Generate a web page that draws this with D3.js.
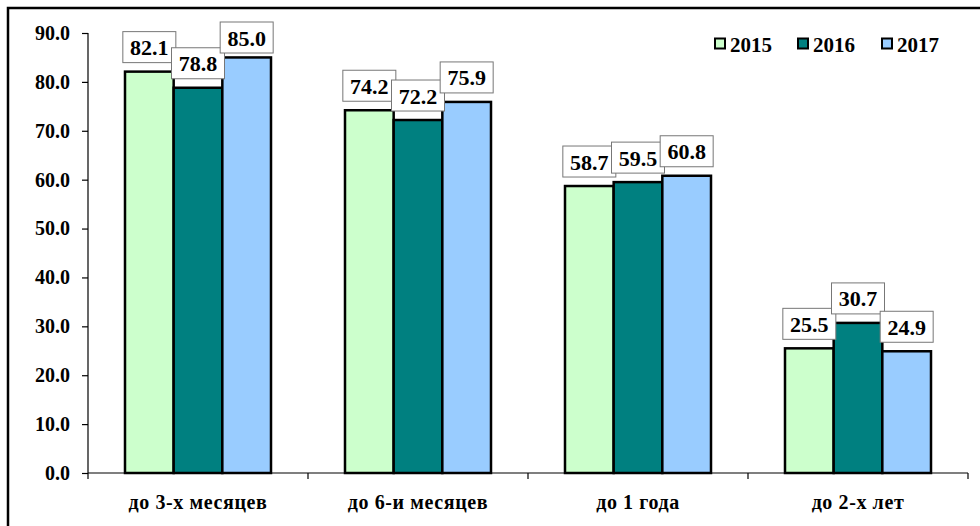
<!DOCTYPE html>
<html><head><meta charset="utf-8">
<script src="https://cdn.jsdelivr.net/npm/d3@7"></script>
<style>html,body{margin:0;padding:0;background:#fff;overflow:hidden}
svg text{font-family:"Liberation Serif","Times New Roman",Tinos,"DejaVu Serif",serif;font-weight:bold;fill:#000}</style>
</head><body>
<svg id="chart" width="980" height="526"></svg>
<script>
const categories = ["до 3-х месяцев", "до 6-и месяцев", "до 1 года", "до 2-х лет"];
const seriesNames = ["2015", "2016", "2017"];
const values2015 = [82.1, 74.2, 58.7, 25.5];
const values2016 = [78.8, 72.2, 59.5, 30.7];
const values2017 = [85.0, 75.9, 60.8, 24.9];
const yTicks = [0, 10, 20, 30, 40, 50, 60, 70, 80, 90];
const colors = ["#CCFFCC", "#008080", "#99CCFF"];

(function () {
const series = [values2015, values2016, values2017];
const svg = d3.select("#chart");

// outer frame
svg.append("rect").attr("x", 8).attr("y", 8).attr("width", 1100).attr("height", 1100)
  .attr("fill", "none").attr("stroke", "#000").attr("stroke-width", 2.5);

const pLeft = 88, pRight = 968, pTop = 33, pBottom = 473;
const x0 = d3.scaleBand().domain(categories).range([pLeft, pRight]).paddingInner(0).paddingOuter(0);
const groupPad = 37;
const x1 = d3.scaleBand().domain(seriesNames).range([groupPad, x0.bandwidth() - groupPad]).padding(0);
const y = d3.scaleLinear().domain([0, 90]).range([pBottom, pTop]);

// y axis
const yAxis = svg.append("g").attr("transform", `translate(${pLeft},0)`)
  .call(d3.axisLeft(y).tickValues(yTicks).tickFormat(d3.format(".1f")).tickSize(6).tickPadding(12));
yAxis.attr("font-family", null).attr("font-size", null);
yAxis.select(".domain").attr("stroke", "#000").attr("stroke-width", 1.2)
  .attr("d", `M0,${pTop}V${pBottom}`);
yAxis.selectAll(".tick line").attr("stroke", "#000").attr("stroke-width", 1.2);
yAxis.selectAll(".tick text").style("font-size", "20px");

// x axis
const xAxis = svg.append("g").attr("transform", `translate(0,${pBottom})`);
xAxis.append("line").attr("x1", pLeft).attr("x2", pRight).attr("y1", 0).attr("y2", 0)
  .attr("stroke", "#000").attr("stroke-width", 1.2);
const boundaries = categories.map(c => x0(c)).concat([x0(categories[categories.length - 1]) + x0.bandwidth()]);
xAxis.selectAll("line.tk").data(boundaries).enter().append("line").attr("class", "tk")
  .attr("x1", d => d).attr("x2", d => d).attr("y1", 0).attr("y2", 6)
  .attr("stroke", "#000").attr("stroke-width", 1.2);
xAxis.selectAll("text.cat").data(categories).enter().append("text").attr("class", "cat")
  .attr("x", d => x0(d) + x0.bandwidth() / 2).attr("y", 36)
  .attr("text-anchor", "middle").style("font-size", "20px").style("letter-spacing", "0.6px").text(d => d);

// bars
const groups = svg.selectAll("g.grp").data(categories).enter().append("g").attr("class", "grp")
  .attr("transform", d => `translate(${x0(d)},0)`);
groups.each(function (cat, ci) {
  const g = d3.select(this);
  seriesNames.forEach((s, si) => {
    const v = series[si][ci];
    g.append("rect").attr("x", x1(s)).attr("y", y(v)).attr("width", x1.bandwidth()).attr("height", pBottom - y(v))
      .attr("fill", colors[si]).attr("stroke", "#000").attr("stroke-width", 2.5);
  });
});
// labels
groups.each(function (cat, ci) {
  const g = d3.select(this);
  seriesNames.forEach((s, si) => {
    const v = series[si][ci];
    const bw = 53, bh = 31;
    const cx = x1(s) + x1.bandwidth() / 2;
    let by = y(v) - 9 - bh;
    by = Math.max(by, 22);
    g.append("rect").attr("x", cx - bw / 2).attr("y", by).attr("width", bw).attr("height", bh)
      .attr("fill", "#fff").attr("stroke", "#777").attr("stroke-width", 1);
    g.append("text").attr("x", cx).attr("y", by + bh / 2 + 8).attr("text-anchor", "middle")
      .style("font-size", "22px").text(d3.format(".1f")(v));
  });
});

// legend
const legX = [715, 798, 882];
const leg = svg.append("g");
seriesNames.forEach((s, i) => {
  leg.append("rect").attr("x", legX[i]).attr("y", 38.5).attr("width", 10).attr("height", 10)
    .attr("fill", colors[i]).attr("stroke", "#000").attr("stroke-width", 2);
  leg.append("text").attr("x", legX[i] + 15).attr("y", 51.5).style("font-size", "21px").text(s);
});
})();
</script>
</body></html>
